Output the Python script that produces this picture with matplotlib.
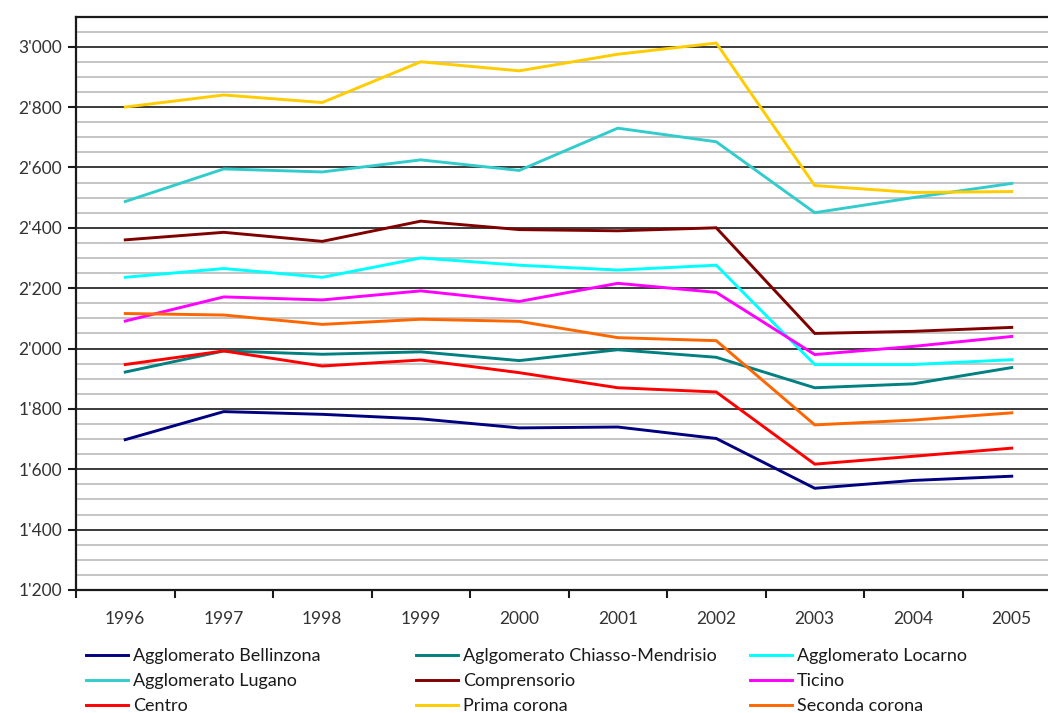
import matplotlib
matplotlib.use("Agg")
import matplotlib.pyplot as plt
from matplotlib.ticker import MultipleLocator, FuncFormatter, FixedLocator

plt.rcParams['font.family'] = ['Lato', 'DejaVu Sans']

years = ["1996", "1997", "1998", "1999", "2000", "2001", "2002", "2003", "2004", "2005"]

bellinzona = [1698, 1791, 1782, 1767, 1737, 1740, 1702, 1537, 1563, 1577]
chiasso_mendrisio = [1922, 1992, 1981, 1989, 1960, 1996, 1971, 1870, 1883, 1937]
locarno = [2236, 2265, 2236, 2300, 2276, 2260, 2276, 1947, 1947, 1963]
lugano = [2487, 2595, 2585, 2625, 2590, 2730, 2685, 2450, 2500, 2547]
comprensorio = [2360, 2385, 2355, 2422, 2394, 2390, 2400, 2050, 2057, 2070]
ticino = [2091, 2171, 2161, 2191, 2156, 2216, 2186, 1980, 2007, 2040]
centro = [1947, 1992, 1942, 1962, 1920, 1870, 1856, 1617, 1643, 1670]
prima_corona = [2800, 2840, 2815, 2950, 2920, 2975, 3012, 2540, 2517, 2520]
seconda_corona = [2116, 2111, 2080, 2097, 2090, 2036, 2026, 1747, 1763, 1787]

series = [
    ("Agglomerato Bellinzona", bellinzona, "#000080"),
    ("Aglgomerato Chiasso-Mendrisio", chiasso_mendrisio, "#008080"),
    ("Agglomerato Locarno", locarno, "#00FFFF"),
    ("Agglomerato Lugano", lugano, "#33CCCC"),
    ("Comprensorio", comprensorio, "#800000"),
    ("Ticino", ticino, "#FF00FF"),
    ("Centro", centro, "#FF0000"),
    ("Prima corona", prima_corona, "#FFCC00"),
    ("Seconda corona", seconda_corona, "#FF6600"),
]

W, H = 1048, 713
fig = plt.figure(figsize=(W / 100, H / 100), dpi=100)
left, right, top, bottom = 76, 1061, 16.5, 590
ax = fig.add_axes([left / W, (H - bottom) / H, (right - left) / W, (bottom - top) / H])

x = list(range(len(years)))
handles = []
for name, vals, col in series:
    (ln,) = ax.plot(x, vals, color=col, lw=2.1, solid_joinstyle='miter', label=name, zorder=3)
    handles.append(ln)

ax.set_xlim(-0.5, len(years) - 0.5)
ax.set_ylim(1200, 3100)

# grid: grey every 50, black every 200
ax.yaxis.set_major_locator(MultipleLocator(200))
ax.yaxis.set_minor_locator(MultipleLocator(50))
ax.yaxis.set_major_formatter(FuncFormatter(lambda v, p: f"{int(v) // 1000}'{int(v) % 1000:03d}"))
ax.grid(which='minor', axis='y', color='#c0c0c0', lw=1.3, zorder=1)
ax.grid(which='major', axis='y', color='#1a1a1a', lw=1.2, zorder=2)
ax.set_axisbelow(True)

ax.set_xticks(x)
ax.set_xticklabels(years)
ax.xaxis.set_minor_locator(FixedLocator([i - 0.5 for i in range(len(years) + 1)]))
ax.tick_params(axis='x', which='major', length=0, pad=15, labelsize=12.5, labelcolor='#333333')
ax.tick_params(axis='x', which='minor', length=6, width=1.5, direction='out', color='#1a1a1a')
ax.tick_params(axis='y', which='major', length=6, width=1.5, direction='out', color='#1a1a1a',
               pad=4, labelsize=12.5, labelcolor='#333333')
ax.tick_params(axis='y', which='minor', length=0)

for s in ax.spines.values():
    s.set_color('#1a1a1a')
    s.set_linewidth(1.6)

# legend laid out as three fixed columns
order_cols = [[0, 3, 6], [1, 4, 7], [2, 5, 8]]
col_x = [86, 416, 750]
for cx, idxs in zip(col_x, order_cols):
    leg = fig.legend([handles[i] for i in idxs], [series[i][0] for i in idxs],
                     loc='upper left', bbox_to_anchor=(cx / W, (H - 648) / H),
                     frameon=False, fontsize=13, handlelength=2.33, handletextpad=0.28,
                     labelspacing=0.5, borderpad=0, borderaxespad=0)
    for t in leg.get_texts():
        t.set_color('#1a1a1a')

fig.savefig("out.png", dpi=100)
